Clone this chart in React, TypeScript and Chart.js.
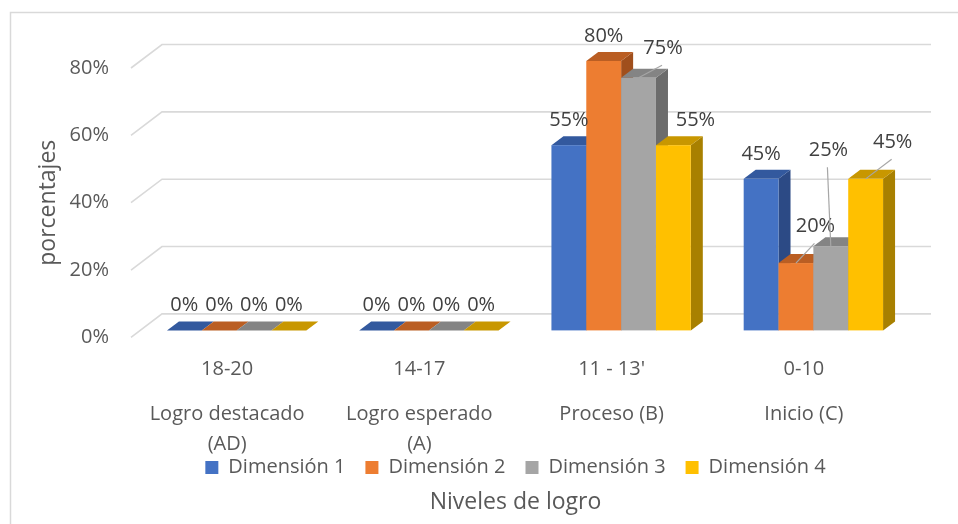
import React, { useEffect, useRef } from "react";
import { Chart, registerables } from "chart.js";

Chart.register(...registerables);

// ---- data ----
const rangeLabels = ["18-20", "14-17", "11 - 13'", "0-10"];
const levelLabels: (string | string[])[] = [
  ["Logro destacado", "(AD)"],
  ["Logro esperado", "(A)"],
  "Proceso (B)",
  "Inicio (C)",
];
const seriesNames = ["Dimensión 1", "Dimensión 2", "Dimensión 3", "Dimensión 4"];
const dim1 = [0, 0, 0.55, 0.45];
const dim2 = [0, 0, 0.8, 0.2];
const dim3 = [0, 0, 0.75, 0.25];
const dim4 = [0, 0, 0.55, 0.45];
const yTicks = [0, 0.2, 0.4, 0.6, 0.8];

// ---- styles ----
const faceColors = [
  { front: "#4472C4", top: "#33599E", side: "#2C4A85" },
  { front: "#ED7D31", top: "#BA5E23", side: "#A04F1C" },
  { front: "#A5A5A5", top: "#848484", side: "#6C6C6C" },
  { front: "#FFC000", top: "#C89700", side: "#A88000" },
];
const BAR_SHIFT = { x: 9.5, y: -7 };
const BAR_DEPTH = { x: 12, y: -9 };
const WALL = { x: 31, y: -23.5 };
const LABEL_GAP = 25;
// label offsets keyed "dataset-category": [dx, dy, leader]
const labelOffsets: Record<string, [number, number, boolean]> = {
  "2-2": [24.5, -4.6, true],
  "3-2": [22, 0, false],
  "1-3": [19.5, -11.7, true],
  "2-3": [-2.4, -71, true],
  "3-3": [27, -11.6, true],
};
const FONT = "'Open Sans', sans-serif";
const TEXT = "#595959";
const GRID = "#D9D9D9";

const pct = (v: number) => Math.round(v * 100) + "%";

const bar3dPlugin = {
  id: "bar3d",
  beforeDraw(chart: any) {
    const ctx = chart.ctx;
    ctx.save();
    ctx.strokeStyle = GRID;
    ctx.lineWidth = 1.5;
    ctx.strokeRect(10.5, 12.5, 980, 540);
    const { left, right } = chart.chartArea;
    const ys = chart.scales.y;
    ctx.lineWidth = 1.6;
    yTicks.forEach((t) => {
      const y = ys.getPixelForValue(t);
      ctx.beginPath();
      ctx.moveTo(left, y);
      ctx.lineTo(left + WALL.x, y + WALL.y);
      ctx.lineTo(right + WALL.x, y + WALL.y);
      ctx.stroke();
    });
    ctx.restore();
  },
  beforeDatasetsDraw(chart: any) {
    const ctx = chart.ctx;
    const nCat = rangeLabels.length;
    const nDs = chart.data.datasets.length;
    ctx.save();
    for (let j = 0; j < nCat; j++) {
      for (let i = 0; i < nDs; i++) {
        const el: any = chart.getDatasetMeta(i).data[j];
        const c = faceColors[i];
        const w = el.width;
        const x = el.x - w / 2 + BAR_SHIFT.x;
        const top = el.y + BAR_SHIFT.y;
        const base = el.base + BAR_SHIFT.y;
        const dx = BAR_DEPTH.x;
        const dy = BAR_DEPTH.y;
        ctx.fillStyle = c.side;
        ctx.beginPath();
        ctx.moveTo(x + w, top);
        ctx.lineTo(x + w + dx, top + dy);
        ctx.lineTo(x + w + dx, base + dy);
        ctx.lineTo(x + w, base);
        ctx.closePath();
        ctx.fill();
        ctx.fillStyle = c.top;
        ctx.beginPath();
        ctx.moveTo(x, top);
        ctx.lineTo(x + dx, top + dy);
        ctx.lineTo(x + w + dx, top + dy);
        ctx.lineTo(x + w, top);
        ctx.closePath();
        ctx.fill();
        ctx.fillStyle = c.front;
        ctx.fillRect(x, top, w, base - top);
      }
    }
    ctx.restore();
    return false;
  },
  afterDraw(chart: any) {
    const ctx = chart.ctx;
    ctx.save();
    ctx.font = "20px " + FONT;
    ctx.textAlign = "center";
    ctx.textBaseline = "middle";
    chart.data.datasets.forEach((ds: any, i: number) => {
      chart.getDatasetMeta(i).data.forEach((el: any, j: number) => {
        const cx = el.x + BAR_SHIFT.x;
        const ty = el.y + BAR_SHIFT.y;
        const off = labelOffsets[i + "-" + j] || [0, 0, false];
        const lx = cx + off[0];
        const ly = ty - LABEL_GAP + off[1];
        if (off[2]) {
          ctx.strokeStyle = "#A6A6A6";
          ctx.lineWidth = 1.2;
          ctx.beginPath();
          ctx.moveTo(lx - 1, ly + 17);
          ctx.lineTo(cx, ty);
          ctx.stroke();
        }
        ctx.fillStyle = "#404040";
        ctx.fillText(pct(ds.data[j]), lx, ly);
      });
    });
    ctx.restore();
  },
};

export default function App() {
  const ref = useRef<HTMLCanvasElement>(null);
  useEffect(() => {
    if (!ref.current) return;
    Chart.defaults.font.family = FONT;
    const series = [dim1, dim2, dim3, dim4];
    const chart = new Chart(ref.current, {
      type: "bar",
      data: {
        labels: rangeLabels,
        datasets: series.map((d, i) => ({
          label: seriesNames[i],
          data: d,
          backgroundColor: faceColors[i].front,
          borderWidth: 0,
          categoryPercentage: 0.725,
          barPercentage: 1.0,
          xAxisID: "x",
        })),
      },
      options: {
        responsive: false,
        animation: false,
        devicePixelRatio: 1,
        layout: { padding: { left: 10, right: 58, top: 68, bottom: 4 } },
        scales: {
          x: {
            type: "category",
            position: "bottom",
            weight: 0,
            offset: true,
            grid: { display: false, drawTicks: false },
            border: { display: false },
            ticks: { color: TEXT, font: { size: 20 }, padding: 20, maxRotation: 0, autoSkip: false },
            afterFit: (s: any) => {
              s.height = 44;
            },
          },
          x2: {
            type: "category",
            position: "bottom",
            weight: 1,
            offset: true,
            labels: levelLabels as any,
            grid: { display: false, drawTicks: false },
            border: { display: false },
            ticks: {
              color: TEXT,
              font: { size: 20, lineHeight: 1.5 },
              mirror: true,
              padding: -48,
              maxRotation: 0,
              autoSkip: false,
            },
            afterFit: (s: any) => {
              s.height = 56;
            },
          },
          y: {
            min: 0,
            max: 0.8,
            grid: { display: false, drawTicks: false },
            border: { display: false },
            afterBuildTicks: (s: any) => {
              s.ticks = yTicks.map((v) => ({ value: v }));
            },
            ticks: {
              color: TEXT,
              font: { size: 20 },
              padding: 22,
              callback: (v: any) => pct(Number(v)),
            },
            title: {
              display: true,
              text: "porcentajes",
              color: TEXT,
              font: { size: 23 },
              padding: { top: 25, bottom: 0 },
            },
            afterFit: (s: any) => {
              s.width = 121;
            },
          },
        },
        plugins: {
          legend: {
            position: "bottom",
            fullSize: false,
            labels: {
              color: TEXT,
              font: { size: 20 },
              boxWidth: 13,
              boxHeight: 13,
              padding: 20,
            },
          },
          title: {
            display: true,
            position: "bottom",
            fullSize: false,
            text: "Niveles de logro",
            color: TEXT,
            font: { size: 23, weight: "normal" },
            padding: { top: 1, bottom: 4 },
          },
          tooltip: { enabled: false },
        },
      },
      plugins: [bar3dPlugin],
    } as any);
    return () => chart.destroy();
  }, []);
  return (
    <div style={{ position: "fixed", left: 0, top: 0, width: 958, height: 524, background: "#fff" }}>
      <canvas ref={ref} width={958} height={524} />
    </div>
  );
}
